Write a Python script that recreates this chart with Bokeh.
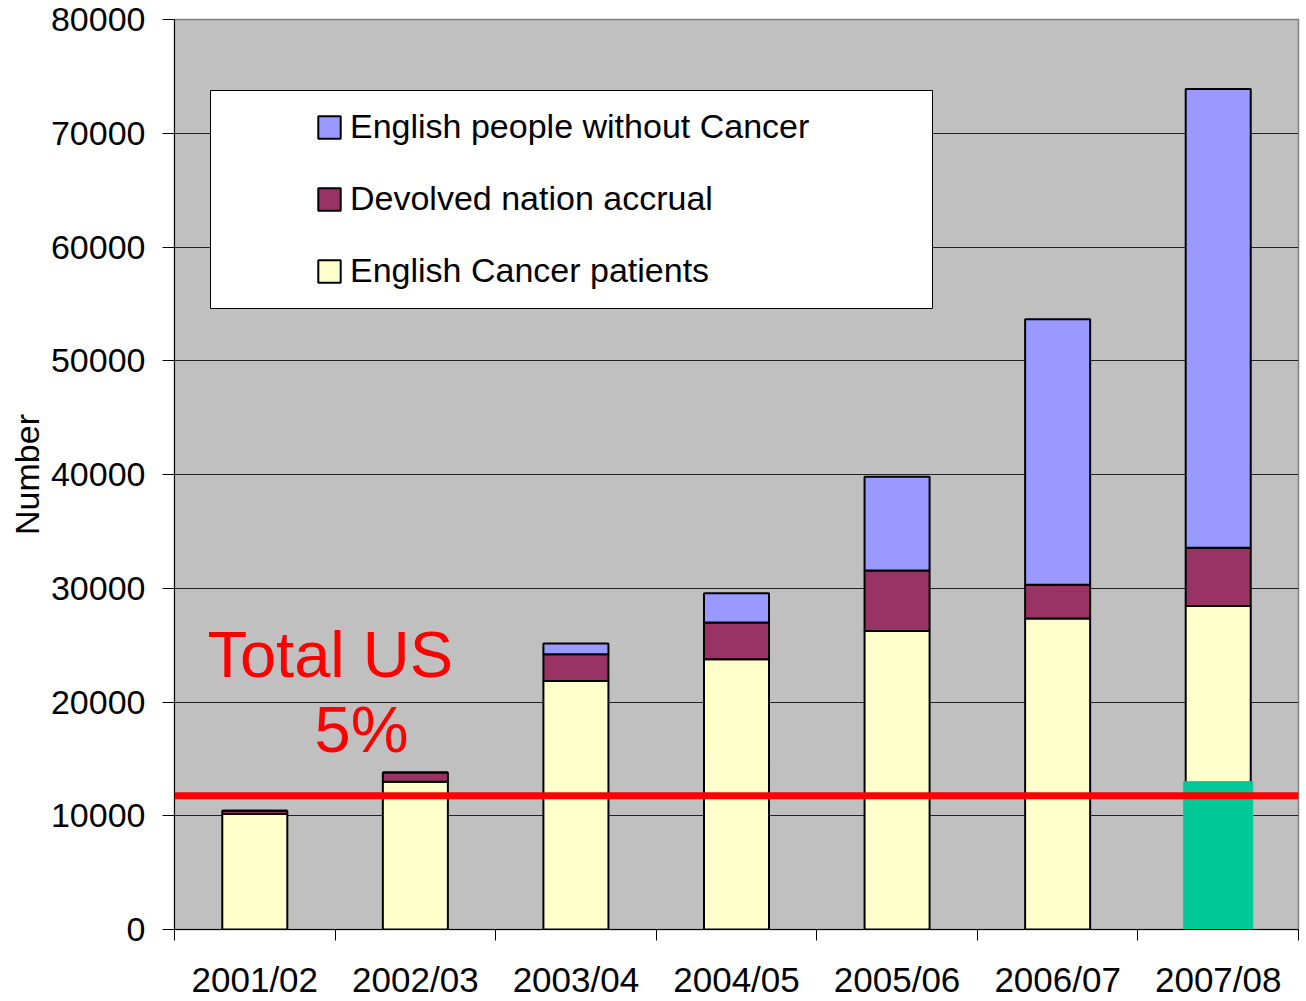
from bokeh.plotting import figure
from bokeh.models import (Range1d, FixedTicker, Legend, LegendItem, Span, Label, BoxAnnotation,
                          NumeralTickFormatter, ColumnDataSource)
from bokeh.embed import file_html
from bokeh.resources import INLINE

# ---- data ----
years = ["2001/02", "2002/03", "2003/04", "2004/05", "2005/06", "2006/07", "2007/08"]
english_cancer = [10150, 13000, 21850, 23750, 26250, 27350, 28450]
devolved_nation = [300, 800, 2350, 3250, 5300, 2950, 5100]
english_without_cancer = [0, 0, 950, 2550, 8250, 23350, 40350]
highlight_year = "2007/08"
highlight_value = 13000
us_total_5pct = 11750
y_ticks = [0, 10000, 20000, 30000, 40000, 50000, 60000, 70000, 80000]
series_names = ["English Cancer patients", "Devolved nation accrual", "English people without Cancer"]
series_colors = ["#FFFFCC", "#993366", "#9999FF"]

FONT = "Liberation Sans"

# category slots: each year occupies one unit, centred at index + 0.5
centers = [years.index(y) + 0.5 for y in years]
bounds = list(range(len(years) + 1))

src = ColumnDataSource(dict(x=centers, year=years, cancer=english_cancer,
                            devolved=devolved_nation, without=english_without_cancer))

p = figure(width=1306, height=1001,
           x_range=Range1d(0, len(years)),
           y_range=Range1d(0, 80000),
           output_backend="svg", toolbar_location=None,
           min_border_left=174, min_border_right=8, min_border_top=19, min_border_bottom=72,
           background_fill_color="#C0C0C0", border_fill_color="white",
           outline_line_color="#808080", outline_line_width=1.5)

# grid
p.xgrid.grid_line_color = None
p.ygrid.grid_line_color = "#222222"
p.ygrid.grid_line_width = 1
p.ygrid.ticker = FixedTicker(ticks=y_ticks)

# y axis
yax = p.yaxis[0]
yax.ticker = FixedTicker(ticks=y_ticks)
yax.formatter = NumeralTickFormatter(format="0")
yax.major_tick_out = 12
yax.major_tick_in = 0
yax.minor_tick_line_color = None
yax.axis_line_color = "black"
yax.major_tick_line_color = "black"
yax.major_label_text_font = FONT
yax.major_label_text_font_size = "34px"
yax.major_label_text_color = "black"
yax.major_label_standoff = 17
yax.axis_label = "Number"
yax.axis_label_text_font = FONT
yax.axis_label_text_font_size = "34px"
yax.axis_label_text_font_style = "normal"
yax.axis_label_text_color = "black"
yax.axis_label_standoff = 2

# x axis: labels at slot centres, tick marks at slot boundaries
xax = p.xaxis[0]
xax.ticker = FixedTicker(ticks=centers, minor_ticks=bounds)
xax.major_label_overrides = {c: y for c, y in zip(centers, years)}
xax.major_tick_line_color = None
xax.major_tick_out = 0
xax.major_tick_in = 0
xax.minor_tick_line_color = "black"
xax.minor_tick_out = 11
xax.minor_tick_in = 0
xax.axis_line_color = "black"
xax.major_label_text_font = FONT
xax.major_label_text_font_size = "35px"
xax.major_label_text_color = "black"
xax.major_label_standoff = 19

# stacked bars
rs = p.vbar_stack(["cancer", "devolved", "without"], x="x", width=0.405, source=src,
                  fill_color=series_colors, line_color="black", line_width=2)

# highlight bar
hi = years.index(highlight_year)
p.vbar(x=[centers[hi]], top=[highlight_value], bottom=0, width=0.43,
       fill_color="#00C998", line_color="#00C998", line_width=1)

# red reference line
p.add_layout(Span(location=us_total_5pct, dimension="width", line_color="#FF0000", line_width=7))

# annotation text
p.add_layout(Label(x=0.205, y=24200, text="Total US",
                   text_font=FONT, text_font_size="65px", text_color="#FF0000",
                   text_baseline="alphabetic", text_align="left"))
p.add_layout(Label(x=0.872, y=17550, text="5%",
                   text_font=FONT, text_font_size="65px", text_color="#FF0000",
                   text_baseline="alphabetic", text_align="left"))

# legend box
p.add_layout(BoxAnnotation(left=36, right=758, bottom=621, top=839,
                           left_units="screen", right_units="screen",
                           bottom_units="screen", top_units="screen",
                           fill_color="white", fill_alpha=1.0,
                           line_color="black", line_width=1, line_alpha=1.0))

legend = Legend(items=[LegendItem(label=series_names[i], renderers=[rs[i]]) for i in (2, 1, 0)],
                location=(131, 629), orientation="vertical",
                glyph_width=28, glyph_height=28, label_height=28, label_standoff=7,
                spacing=33, padding=10, margin=0,
                label_text_font=FONT, label_text_font_size="34px", label_text_color="black",
                background_fill_alpha=0, border_line_alpha=0)
p.add_layout(legend, "center")

open("out.html", "w").write(file_html(p, INLINE))
